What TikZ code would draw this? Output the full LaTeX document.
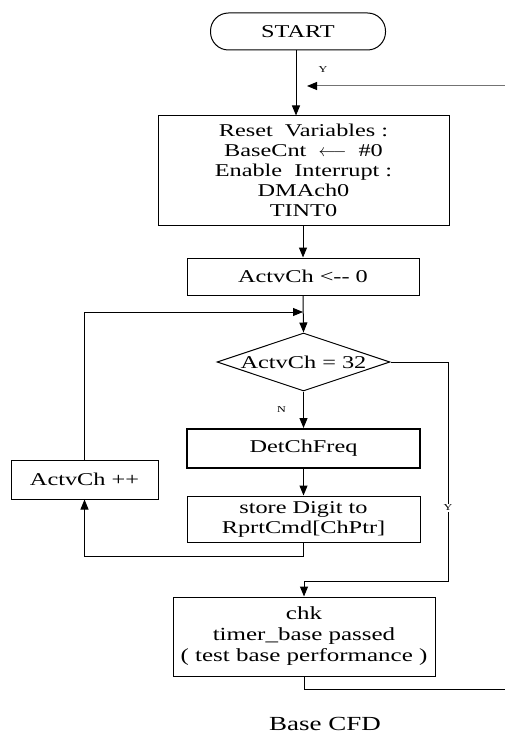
\documentclass[tikz,border=0pt]{standalone}
\usepackage{fontspec}
\setmainfont{Liberation Serif}[FakeStretch=1.35]
\usetikzlibrary{arrows.meta,shapes.geometric,calc}
\begin{document}
\begin{tikzpicture}[x=1pt,y=-1pt,
  box/.style={draw,line width=1pt,inner sep=0pt,align=center,font=\fontsize{18}{20}\selectfont},
  conn/.style={line width=1pt},
  arr/.style={conn,-{Triangle[length=10pt,width=8pt,color=black]}},
  lbl/.style={inner sep=1pt,font=\fontsize{9}{10}\selectfont}]
\useasboundingbox (0,0) rectangle (504,735);
\node[box,rounded corners=18pt,minimum width=175pt,minimum height=37pt] (start) at (298,31.5) {START};
\node[box,minimum width=291pt,minimum height=109pt] (reset) at (303.5,170.5)
  {Reset\ \ Variables :\\ BaseCnt\ \ $\longleftarrow$\ \ \#0\\ Enable\ \ Interrupt :\\ DMAch0\\ TINT0};
\node[box,minimum width=232pt,minimum height=37pt] (act0) at (303,276.5) {ActvCh <-{}- 0};
\node[box,diamond,shape aspect=3,minimum width=173pt,minimum height=58pt] (dec) at (303.5,362) {ActvCh = 32};
\node[box,line width=2pt,minimum width=233pt,minimum height=39pt] (det) at (303.5,448.5) {DetChFreq};
\node[box,minimum width=233pt,minimum height=46pt] (store) at (303.5,519) {store Digit to\\ RprtCmd[ChPtr]};
\node[box,minimum width=147pt,minimum height=39pt] (inc) at (84.5,479.5) {ActvCh ++};
\node[box,minimum width=262pt,minimum height=79pt,font=\fontsize{18.5}{21}\selectfont] (chk) at (304,636.5)
  {chk\\ timer\_base passed\\ ( test base performance )};
\node[font=\fontsize{20}{22}\selectfont] (cap) at (325,724) {Base CFD};
\coordinate (join) at (303,312);
\coordinate (ret) at (307,86);
\coordinate (edge) at (510,86);
% connectors
\draw[arr] (start.south -| 296,0) -- (reset.north -| 296,0);
\draw[arr] (reset.south -| act0.south) -- (act0.north);
\draw[arr] (act0.south) -- (dec.north);
\draw[arr] (dec.south) -- (det.north) node[lbl,pos=0.5,left=16pt] (n) {N};
\draw[arr] (det.south) -- (store.north);
\draw[arr] (store.south) -- ++(0,14) -| (inc.south);
\draw[arr] (inc.north) |- (join);
\draw[arr] (dec.east) -- ++(58,0) |- ([yshift=15pt]chk.north) -- (chk.north);
\node[lbl,fill=white] (y2) at (448,508) {Y};
\draw[conn] (chk.south) -- ++(0,13) -| (edge);
\draw[arr,black!55] (edge) -- (ret);
\node[lbl] (y1) at (323,70) {Y};
\end{tikzpicture}
\end{document}
